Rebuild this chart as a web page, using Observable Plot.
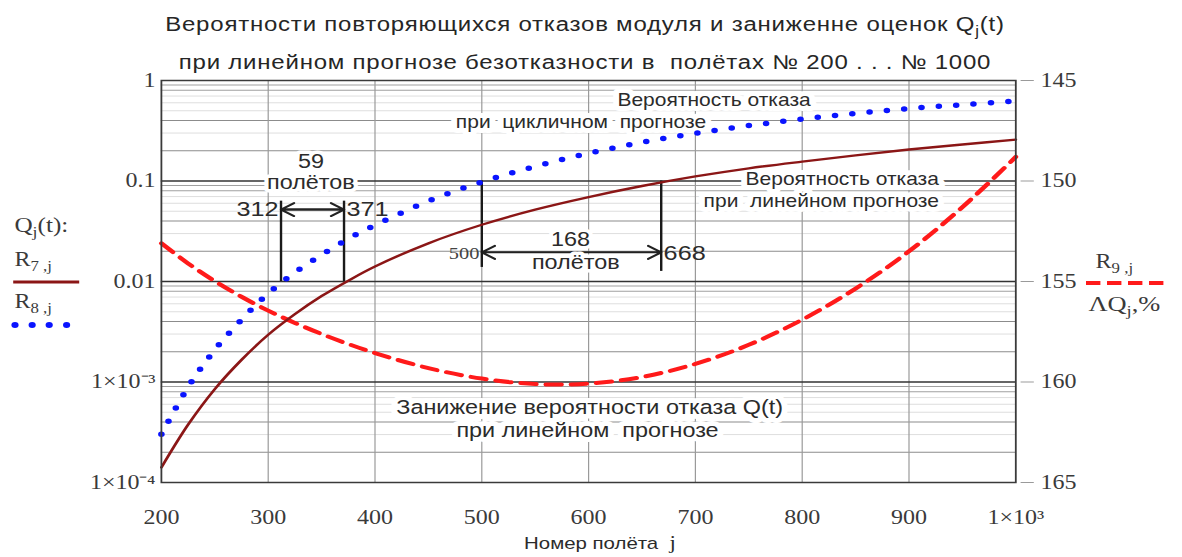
<!DOCTYPE html>
<html lang="ru">
<head>
<meta charset="utf-8">
<script src="https://cdn.jsdelivr.net/npm/d3@7"></script>
<script src="https://cdn.jsdelivr.net/npm/@observablehq/plot@0.6"></script>
<style>
  html, body { margin: 0; padding: 0; background: #fff; overflow: hidden; }
  /* the whole sheet is laid out narrow and widened horizontally */
  #page { position: relative; width: 985px; height: 557px; transform: scaleX(1.2); transform-origin: 0 0; color: #2b2b2b; }
  #chart { position: absolute; left: 0; top: 0; }
  #chart svg text { white-space: pre; }
  .ttl { position: absolute; left: 0; width: 975px; text-align: center; font-family: "Liberation Sans", Arial, sans-serif;
         font-size: 20px; line-height: 24px; white-space: pre; letter-spacing: 0.65px; color: #262626; }
  .lg { position: absolute; font-family: "Liberation Serif", "Times New Roman", serif; white-space: pre; color: #3a3a3a; line-height: 22px; }
  .lg sub, .ttl sub, .xl sub { font-size: 70%; vertical-align: -0.35em; line-height: 0; }
  .sw { position: absolute; overflow: visible; }
  .xl { position: absolute; left: 0; width: 1000px; text-align: center; font-family: "Liberation Sans", Arial, sans-serif;
        font-size: 17px; line-height: 20px; white-space: pre; color: #2b2b2b; }
</style>
</head>
<body>
<div id="page">
  <div id="chart"></div>

  <div class="ttl" style="top:12px">Вероятности повторяющихся отказов модуля и заниженне оценок Q<sub>j</sub>(t)</div>
  <div class="ttl" style="top:50px">при линейном прогнозе безотказности в  полётах № 200 . . . № 1000</div>

  <!-- left legend: Q_j(t) curves -->
  <div class="lg" style="left:12px;top:214px;font-size:21px">Q<sub>j</sub>(t):</div>
  <div class="lg" style="left:12px;top:248px;font-size:20px">R<sub>7 ,j</sub></div>
  <svg class="sw" style="left:10px;top:279px" width="58" height="6"><line x1="1" y1="3" x2="56" y2="3" stroke="#8b1616" stroke-width="3"/></svg>
  <div class="lg" style="left:12px;top:290px;font-size:20px">R<sub>8 ,j</sub></div>
  <svg class="sw" style="left:8px;top:320px" width="56" height="10">
    <circle cx="4.5" cy="5" r="3" fill="#0a14ff"/><circle cx="18.8" cy="5" r="3" fill="#0a14ff"/>
    <circle cx="33" cy="5" r="3" fill="#0a14ff"/><circle cx="47.5" cy="5" r="3" fill="#0a14ff"/>
  </svg>

  <!-- right legend: understatement of Q, % -->
  <div class="lg" style="left:913px;top:250px;font-size:20px">R<sub>9 ,j</sub></div>
  <svg class="sw" style="left:904px;top:279px" width="70" height="8"><line x1="1" y1="4" x2="69" y2="4" stroke="#ff1a1a" stroke-width="4" stroke-dasharray="12,5.5"/></svg>
  <div class="lg" style="left:907px;top:293px;font-size:22px">ΛQ<sub>j</sub>,%</div>

  <div class="xl" style="top:533px">Номер полёта  <span style="font-family:'Liberation Serif',serif;font-size:19px">j</span></div>
</div>
<script>
// Flight numbers at which the curves were evaluated
const flights = [200, 225, 250, 275, 300, 325, 350, 375, 400, 450, 500, 550, 600, 650, 700, 750, 800, 850, 900, 950, 1000];
// R7: failure probability with the linear forecast
const qLinear = [1.41e-4, 3.76e-4, 8.5e-4, 1.66e-3, 2.95e-3, 4.73e-3, 7.16e-3, 1.02e-2, 1.41e-2, 2.4e-2, 3.67e-2,
                 5.19e-2, 6.92e-2, 8.91e-2, 0.111, 0.1337, 0.156, 0.18, 0.2056, 0.231, 0.258];
// R8: failure probability with the cyclic forecast
const qCyclic = [3.02e-4, 8.9e-4, 2.09e-3, 4.17e-3, 7.59e-3, 1.23e-2, 1.84e-2, 2.66e-2, 3.63e-2, 6.31e-2, 9.77e-2,
                 0.1396, 0.1884, 0.2427, 0.2985, 0.3556, 0.413, 0.47, 0.526, 0.574, 0.624];
// R9: understatement of the failure probability, %
const deltaQ = [153.1, 154.1, 154.98, 155.76, 156.45, 157.06, 157.61, 158.11, 158.56, 159.31, 159.83,
                160.1, 160.08, 159.75, 159.1, 158.15, 156.9, 155.35, 153.5, 151.3, 148.8];

const flightTicks = [200, 300, 400, 500, 600, 700, 800, 900, 1000];
const qTicks = [1e-4, 1e-3, 1e-2, 1e-1, 1];
const deltaTicks = [145, 150, 155, 160, 165];

// Flight intervals between equal probability levels
const levelA = 0.01, spanA = [312, 371], countA = 59;
const levelB = 0.1, spanB = [500, 668], countB = 168;

// The right axis (ΔQ, %) is laid over the left logarithmic axis: 145 at top, 165 at bottom
const dqToLog = d3.scaleLinear().domain([145, 165]).range([0, -4]);
const toQ = v => Math.pow(10, dqToLog(v));
const fromQ = q => Math.round(dqToLog.invert(Math.log10(q)));

const rows = flights.map((j, i) => ({j, lin: qLinear[i], cyc: qCyclic[i], dq: toQ(deltaQ[i])}));

const sup = {"-": "⁻", "0": "⁰", "1": "¹", "2": "²", "3": "³", "4": "⁴"};
const fmtQ = d => {
  const e = Math.round(Math.log10(d));
  if (e === 0) return "1";
  if (e === -1) return "0.1";
  if (e === -2) return "0.01";
  return "1×10" + String(e).split("").map(c => sup[c]).join("");
};

const decades = [1e-4, 1e-3, 1e-2, 1e-1];
const minor = ms => decades.flatMap(d => ms.map(m => m * d));

const sans = "Liberation Sans, Arial, sans-serif";
const serif = "Liberation Serif, Times New Roman, serif";
const ink = "#2b2b2b";

// captions of the two probability curves
const startLabels = [{j: 627, q: 0.638, t: "Вероятность отказа"}];
const endLabels = [
  {j: 710, q: 0.379, t: "при  цикличном  прогнозе"},
  {j: 928, q: 0.103, t: "Вероятность отказа"},
  {j: 928, q: 0.0625, t: "при  линейном прогнозе"},
];
const lowLabels = [
  {j: 601, q: 5.5e-4, t: "Занижение вероятности отказа Q(t)"},
  {j: 599, q: 3.27e-4, t: "при линейном  прогнозе"},
];
const countLabels = [
  {j: 340, q: 0.1545, t: String(countA)},
  {j: 340, q: 0.0953, t: "полётов"},
  {j: 583, q: 0.0262, t: String(countB)},
  {j: 588, q: 0.0152, t: "полётов"},
];
const arrowY = [0.052, 0.0195];

const chart = Plot.plot({
  width: 985,
  height: 557,
  marginTop: 80,
  marginBottom: 75,
  marginLeft: 134,
  marginRight: 139,
  style: {fontFamily: serif, fontSize: "20px", color: "#333", background: "transparent", overflow: "visible"},
  x: {domain: [200, 1000]},
  y: {type: "log", domain: [1e-4, 1]},
  marks: [
    // logarithmic grid
    Plot.ruleY(minor([3, 5, 6, 7]), {y: d => d, stroke: "#dadada", strokeWidth: 0.8}),
    Plot.ruleY(minor([2, 4]), {y: d => d, stroke: "#8c8c8c", strokeWidth: 1}),
    Plot.ruleY(minor([8, 9]), {y: d => d, stroke: "#a0a0a0", strokeWidth: 1}),
    Plot.ruleX(flightTicks.slice(1, -1), {x: d => d, stroke: "#9a9a9a", strokeWidth: 1}),
    Plot.ruleY(decades.slice(1), {y: d => d, stroke: "#333", strokeWidth: 1.4}),

    // interval arrows
    Plot.arrow([spanA, [spanA[1], spanA[0]]], {x1: d => d[0], x2: d => d[1], y1: arrowY[0], y2: arrowY[0],
      stroke: "#222", strokeWidth: 2, headLength: 9.5, headAngle: 62}),
    Plot.arrow([[584, spanB[0]], [584, spanB[1]]], {x1: d => d[0], x2: d => d[1], y1: arrowY[1], y2: arrowY[1],
      stroke: "#222", strokeWidth: 2, headLength: 9.5, headAngle: 62}),

    // captions in white boxes
    Plot.text(startLabels, {x: "j", y: "q", text: "t", textAnchor: "start", fontFamily: sans, fontSize: 17.5,
      fill: ink, stroke: "white", strokeWidth: 10}),
    Plot.text(endLabels, {x: "j", y: "q", text: "t", textAnchor: "end", fontFamily: sans, fontSize: 17.5,
      fill: ink, stroke: "white", strokeWidth: 10}),
    Plot.text(lowLabels, {x: "j", y: "q", text: "t", fontFamily: sans, fontSize: 19.5,
      fill: ink, stroke: "white", strokeWidth: 10}),
    Plot.text(countLabels, {x: "j", y: "q", text: "t", fontFamily: sans, fontSize: 19.5,
      fill: ink, stroke: "white", strokeWidth: 7}),

    // vertical markers of the intervals
    Plot.ruleX(spanA, {x: d => d, y1: levelA, y2: 0.063, stroke: "#1a1a1a", strokeWidth: 2}),
    Plot.ruleX([spanB[0]], {x: d => d, y1: levelB, y2: 0.0138, stroke: "#1a1a1a", strokeWidth: 2}),
    Plot.ruleX([spanB[1]], {x: d => d, y1: levelB, y2: 0.0126, stroke: "#1a1a1a", strokeWidth: 2}),

    // interval end labels
    Plot.text([spanA[0]], {x: d => d, y: arrowY[0], text: d => String(d), textAnchor: "end", dx: -2,
      fontFamily: sans, fontSize: 21, fill: ink}),
    Plot.text([spanA[1]], {x: d => d, y: arrowY[0], text: d => String(d), textAnchor: "start", dx: 2,
      fontFamily: sans, fontSize: 21, fill: ink}),
    Plot.text([spanB[0]], {x: d => d, y: 0.0189, text: d => String(d), textAnchor: "end", dx: -2,
      fontFamily: serif, fontSize: 17, fill: "#444"}),
    Plot.text([spanB[1]], {x: d => d, y: 0.0189, text: d => String(d), textAnchor: "start", dx: 2,
      fontFamily: sans, fontSize: 21, fill: ink}),

    // curves
    Plot.line(rows, {x: "j", y: "dq", stroke: "#ff1a1a", strokeWidth: 4, strokeDasharray: "13,8", curve: "catmull-rom"}),
    Plot.line(rows, {x: "j", y: "lin", stroke: "#8b1616", strokeWidth: 2.4, curve: "catmull-rom"}),
    Plot.line(rows, {x: "j", y: "cyc", stroke: "#0a14ff", strokeWidth: 5.5, strokeDasharray: "0,14.5",
      strokeLinecap: "round", curve: "catmull-rom"}),

    Plot.frame({stroke: "#3a3a3a", strokeWidth: 1.5}),

    // axes
    Plot.axisY(qTicks, {anchor: "left", tickSize: 0, tickPadding: 5, tickFormat: fmtQ, label: null,
      fontSize: 20, fill: "#3a3a3a"}),
    Plot.axisY(deltaTicks.map(toQ), {anchor: "right", tickSize: 11, tickPadding: 6, insetRight: -3.5,
      tickFormat: d => String(fromQ(d)), label: null, fontSize: 20, stroke: "#9a9a9a", fill: "#3a3a3a"}),
    Plot.axisX(flightTicks, {anchor: "bottom", tickSize: 0, tickPadding: 27, label: null,
      tickFormat: d => d === 1000 ? "1×10³" : String(d), fontSize: 20, fill: "#3a3a3a"}),
  ]
});

document.getElementById("chart").append(chart);
</script>
</body>
</html>
